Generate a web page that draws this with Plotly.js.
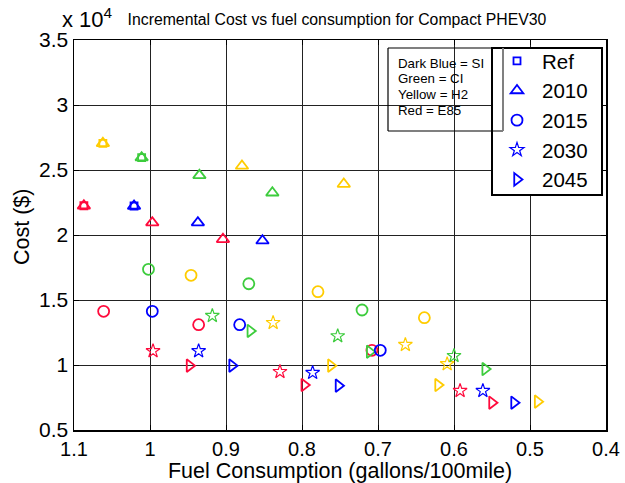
<!DOCTYPE html>
<html>
<head>
<meta charset="utf-8">
<script src="https://cdn.plot.ly/plotly-3.0.1.min.js"></script>
<style>
  html, body { margin: 0; padding: 0; background: #fff; }
  #chart { width: 625px; height: 483px; }
</style>
</head>
<body>
<div id="chart"></div>
<script>
// Fuel consumption (gallons/100mile) and incremental cost ($) for each powertrain
// SI = spark ignition, CI = compression ignition, H2 = hydrogen, E85 = ethanol blend

// Reference vehicles
const refFuel = { SI: [1.021], CI: [1.011], H2: [1.062], E85: [1.087] };
const refCost = { SI: [22230], CI: [25950], H2: [27050], E85: [22250] };

// 2010
const fuel2010 = { SI: [1.021, 0.937, 0.852], CI: [1.011, 0.935, 0.839], H2: [1.062, 0.879, 0.745], E85: [1.087, 0.997, 0.904] };
const cost2010 = { SI: [22230, 20950, 19560], CI: [25950, 24590, 23250], H2: [27050, 25310, 23920], E85: [22250, 20950, 19670] };

// 2015
const fuel2015 = { SI: [0.997, 0.882, 0.697], CI: [1.002, 0.870, 0.721], H2: [0.946, 0.779, 0.639], E85: [1.061, 0.936, 0.708] };
const cost2015 = { SI: [14130, 13100, 11130], CI: [17360, 16250, 14230], H2: [16900, 15640, 13640], E85: [14130, 13100, 11130] };

// 2030
const fuel2030 = { SI: [0.936, 0.786, 0.562], CI: [0.918, 0.753, 0.600], H2: [0.838, 0.664, 0.609], E85: [0.996, 0.829, 0.592] };
const cost2030 = { SI: [11080, 9410, 8020], CI: [13790, 12230, 10710], H2: [13250, 11560, 10080], E85: [11080, 9480, 8020] };

// 2045
const fuel2045 = { SI: [0.892, 0.752, 0.521], CI: [0.868, 0.711, 0.559], H2: [0.762, 0.621, 0.490], E85: [0.948, 0.797, 0.550] };
const cost2045 = { SI: [9950, 8410, 7100], CI: [12620, 11020, 9690], H2: [9950, 8460, 7180], E85: [9950, 8460, 7100] };

const yearNames = ['Ref', '2010', '2015', '2030', '2045'];
const keyLines = ['Dark Blue = SI', 'Green = CI', 'Yellow = H2', 'Red = E85'];
const yTickVals = [5000, 10000, 15000, 20000, 25000, 30000, 35000];
const yTickText = ['0.5', '1', '1.5', '2', '2.5', '3', '3.5'];
const xTickVals = [1.1, 1.0, 0.9, 0.8, 0.7, 0.6, 0.5, 0.4];
const xTickText = ['1.1', '1', '0.9', '0.8', '0.7', '0.6', '0.5', '0.4'];

const techColors = { SI: '#0000ff', CI: '#3dcc3d', H2: '#ffcc00', E85: '#ff0a3c' };
// Draw order: SI (blue) carries the legend entry for each year
const techOrder = ['E85', 'H2', 'CI', 'SI'];

const yearSets = [
  { name: yearNames[1], fuel: fuel2010, cost: cost2010, symbol: 'triangle-up-open', size: 11, lw: 1.8 },
  { name: yearNames[2], fuel: fuel2015, cost: cost2015, symbol: 'circle-open', size: 11, lw: 1.8 },
  { name: yearNames[3], fuel: fuel2030, cost: cost2030, symbol: 'star-open', size: 10.5, lw: 1.2 },
  { name: yearNames[4], fuel: fuel2045, cost: cost2045, symbol: 'triangle-right-open', size: 11, lw: 1.8 }
];

const traces = [];
const legendTraces = [];

// Reference squares (small, sitting under the 2010 triangles)
techOrder.forEach(t => {
  const tr = {
    type: 'scatter', mode: 'markers',
    x: refFuel[t], y: refCost[t],
    name: yearNames[0],
    showlegend: t === 'SI',
    marker: { symbol: 'square-open', size: 7, color: techColors[t], line: { width: 1.8, color: techColors[t] } },
    hoverinfo: 'x+y'
  };
  if (t === 'SI') legendTraces.push(tr); else traces.push(tr);
});

yearSets.forEach(ys => {
  techOrder.forEach(t => {
    const tr = {
      type: 'scatter', mode: 'markers',
      x: ys.fuel[t], y: ys.cost[t],
      name: ys.name,
      showlegend: t === 'SI',
      marker: { symbol: ys.symbol, size: ys.size, color: techColors[t], line: { width: ys.lw, color: techColors[t] } },
      hoverinfo: 'x+y'
    };
    if (t === 'SI') legendTraces.push(tr); else traces.push(tr);
  });
});

// Blue traces last so they sit on top and fill the legend in order
const data = traces.concat(legendTraces);

const W = 625, H = 483;
const M = { l: 74, r: 19, t: 40, b: 53 };
const plotW = W - M.l - M.r, plotH = H - M.t - M.b;
const px = v => (v - M.l) / plotW;          // pixel -> paper x
const py = v => 1 - (v - M.t) / plotH;      // pixel -> paper y

const font = 'Liberation Sans, Arial, sans-serif';

// colour key text, one line per annotation for tight line spacing
const keyAnnotations = keyLines.map((s, i) => ({
  text: s, xref: 'paper', yref: 'paper',
  x: px(396), y: py(63 + i * 15.7), xanchor: 'left', yanchor: 'middle',
  showarrow: false, font: { family: font, size: 13.3, color: '#000' }
}));

const layout = {
  width: W, height: H,
  margin: M,
  paper_bgcolor: '#ffffff',
  plot_bgcolor: '#ffffff',
  font: { family: font, color: '#000' },
  showlegend: true,
  title: {
    text: 'Incremental Cost vs fuel consumption for Compact PHEV30',
    font: { family: font, size: 15.8, color: '#000' },
    x: px(337), xref: 'paper', xanchor: 'center',
    y: 1 - 19 / H, yref: 'container', yanchor: 'middle'
  },
  xaxis: {
    range: [1.1, 0.4],
    tickvals: xTickVals, ticktext: xTickText,
    showgrid: true, gridcolor: '#222', gridwidth: 1,
    zeroline: false,
    showline: true, linecolor: '#000', linewidth: 1.5, mirror: 'ticks',
    ticks: 'inside', ticklen: 5, tickcolor: '#000',
    tickfont: { family: font, size: 20, color: '#000' },
    title: { text: 'Fuel Consumption (gallons/100mile)', font: { family: font, size: 21.5, color: '#000' }, standoff: 3 }
  },
  yaxis: {
    range: [5000, 35000],
    tickvals: yTickVals, ticktext: yTickText,
    showgrid: true, gridcolor: '#222', gridwidth: 1,
    zeroline: false,
    showline: true, linecolor: '#000', linewidth: 1.5, mirror: 'ticks',
    ticks: 'inside', ticklen: 5, tickcolor: '#000',
    tickfont: { family: font, size: 21, color: '#000' },
    title: { text: '' }
  },
  legend: {
    x: px(492), y: py(41), xanchor: 'left', yanchor: 'top',
    bgcolor: 'rgba(0,0,0,0)', borderwidth: 0,
    font: { family: font, size: 20.5, color: '#000' },
    itemwidth: 40,
    tracegroupgap: 0
  },
  shapes: [
    // legend frame
    { type: 'rect', xref: 'paper', yref: 'paper', x0: px(492), x1: px(602), y0: py(195), y1: py(48),
      line: { color: '#000', width: 2 }, fillcolor: '#ffffff', layer: 'above' },
    // colour key frame
    { type: 'line', xref: 'paper', yref: 'paper', x0: px(388), x1: px(503), y0: py(48), y1: py(48), line: { color: '#000', width: 1.2 }, layer: 'above' },
    { type: 'line', xref: 'paper', yref: 'paper', x0: px(388), x1: px(388), y0: py(48), y1: py(131), line: { color: '#000', width: 1.2 }, layer: 'above' },
    { type: 'line', xref: 'paper', yref: 'paper', x0: px(388), x1: px(503), y0: py(131), y1: py(131), line: { color: '#000', width: 1.2 }, layer: 'above' },
    { type: 'line', xref: 'paper', yref: 'paper', x0: px(503), x1: px(503), y0: py(48), y1: py(131), line: { color: '#808080', width: 2 }, layer: 'above' }
  ],
  annotations: [
    { text: 'x 10<sup>4</sup>', xref: 'paper', yref: 'paper', x: px(60), y: py(34),
      xanchor: 'left', yanchor: 'bottom', showarrow: false,
      font: { family: font, size: 22, color: '#000' } },
    { text: 'Cost ($)', xref: 'paper', yref: 'paper', x: px(22), y: py(227),
      xanchor: 'center', yanchor: 'middle', textangle: -90, showarrow: false,
      font: { family: font, size: 21.5, color: '#000' } }
  ].concat(keyAnnotations)
};

Plotly.newPlot('chart', data, layout, { displayModeBar: false, staticPlot: true });
</script>
</body>
</html>
